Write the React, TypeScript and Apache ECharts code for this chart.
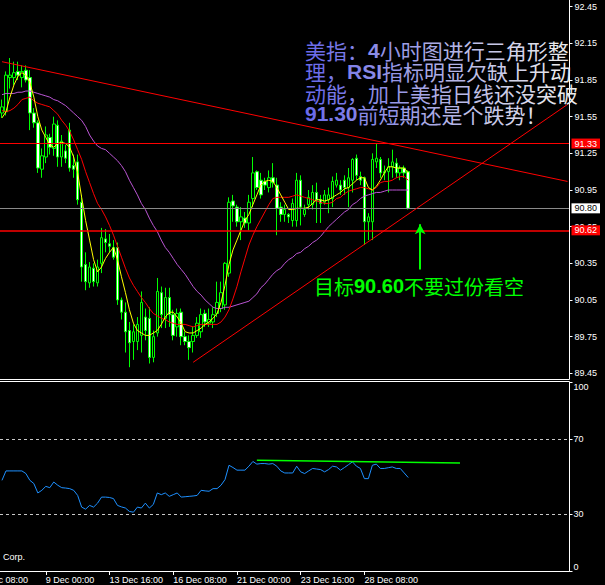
import React, { useEffect, useRef } from "react";
import * as echarts from "echarts";

// 4-hour bars of the dollar index (USDX)
const opens = [
  91.58, 91.59, 91.87, 91.87, 91.92, 91.87, 91.93, 91.87, 91.58, 91.5,
  91.12, 91.22, 91.38, 91.29, 91.48, 91.22, 91.27, 91.44, 91.15, 91.18,
  90.85, 90.34, 90.19, 90.31, 90.19, 90.35, 90.55, 90.51, 90.48, 90.48,
  90.05, 89.95, 89.8, 89.71, 89.71, 89.76, 89.91, 89.9, 89.58, 89.78,
  90.11, 89.9, 90.07, 89.93, 89.83, 89.95, 89.75, 89.71, 89.71, 89.76,
  89.79, 89.94, 89.86, 89.87, 89.94, 89.98, 90.01, 90.27, 90.86, 90.81,
  90.69, 90.72, 90.68, 90.88, 91.1, 91.03, 91.02, 90.97, 91.05, 90.99,
  90.81, 90.75, 90.75, 90.7, 90.7, 91.03, 90.75, 90.83, 90.83, 90.93,
  90.87, 90.85, 90.87, 90.88, 90.99, 90.99, 91.03, 90.97, 91.03, 91.21,
  91.06, 91.05, 90.69, 90.69, 91.18, 91.2, 91.09, 91.1, 91.14, 91.17,
  91.09, 91.13, 91.1,
];
const closes = [
  91.63, 91.89, 91.89, 91.91, 91.89, 91.92, 91.85, 91.58, 91.5, 91.13,
  91.23, 91.4, 91.3, 91.49, 91.22, 91.35, 91.21, 91.13, 91.12, 90.87,
  90.32, 90.2, 90.32, 90.2, 90.32, 90.56, 90.52, 90.49, 90.4, 90.05,
  89.95, 89.79, 89.7, 89.79, 89.85, 90.03, 89.8, 89.58, 89.75, 90.12,
  89.93, 90.07, 89.93, 89.76, 89.94, 89.75, 89.71, 89.66, 89.76, 89.86,
  89.93, 89.87, 89.89, 89.93, 90.03, 90.11, 90.35, 90.85, 90.82, 90.69,
  90.73, 90.68, 90.85, 91.09, 90.97, 90.91, 90.99, 91.05, 91.01, 90.8,
  90.75, 90.79, 90.73, 90.84, 91.03, 90.81, 90.79, 90.89, 90.93, 90.87,
  90.84, 90.91, 90.91, 91.02, 91.03, 90.95, 90.97, 91.05, 91.2, 91.07,
  91.03, 90.69, 90.73, 91.2, 91.21, 91.09, 91.1, 91.14, 91.18, 91.09,
  91.13, 91.09, 90.8,
];
const lows = [
  91.54, 91.56, 91.78, 91.81, 91.85, 91.79, 91.83, 91.44, 91.46, 91.09,
  91.05, 91.17, 91.24, 91.23, 91.14, 91.14, 91.17, 91.1, 91.05, 90.83,
  90.2, 90.13, 90.15, 90.16, 90.16, 90.27, 90.44, 90.44, 90.38, 90.01,
  89.89, 89.62, 89.5, 89.56, 89.64, 89.62, 89.72, 89.53, 89.54, 89.75,
  89.82, 89.82, 89.83, 89.72, 89.75, 89.68, 89.68, 89.56, 89.62, 89.74,
  89.74, 89.83, 89.83, 89.82, 89.91, 89.95, 89.97, 90.24, 90.69, 90.65,
  90.54, 90.64, 90.62, 90.81, 90.95, 90.88, 90.95, 90.93, 90.97, 90.58,
  90.69, 90.69, 90.68, 90.65, 90.65, 90.66, 90.73, 90.79, 90.79, 90.68,
  90.68, 90.83, 90.76, 90.81, 90.97, 90.91, 90.91, 90.81, 90.93, 91.03,
  90.99, 90.5, 90.54, 90.54, 91.13, 91.05, 91.03, 90.93, 91.05, 91.05,
  91.03, 91.05, 90.79,
];
const highs = [
  91.69, 91.92, 92.03, 92.0, 92.0, 91.97, 91.97, 91.93, 91.62, 91.52,
  91.29, 91.47, 91.41, 91.55, 91.52, 91.4, 91.32, 91.5, 91.24, 91.24,
  90.91, 90.44, 90.36, 90.35, 90.38, 90.64, 90.63, 90.59, 90.54, 90.52,
  90.07, 90.03, 89.87, 89.85, 89.91, 90.12, 89.98, 89.99, 89.8, 90.23,
  90.16, 90.15, 90.15, 89.97, 89.98, 89.98, 89.79, 89.76, 89.83, 89.91,
  89.98, 89.97, 89.98, 89.99, 90.2, 90.2, 90.36, 90.89, 90.91, 90.83,
  90.81, 90.77, 90.91, 91.22, 91.11, 91.09, 91.05, 91.11, 91.17, 91.05,
  90.85, 90.83, 90.76, 90.88, 91.09, 91.07, 90.83, 90.95, 90.99, 91.01,
  90.91, 90.95, 90.97, 91.06, 91.09, 91.03, 91.07, 91.13, 91.21, 91.24,
  91.1, 91.06, 90.76, 91.25, 91.33, 91.22, 91.15, 91.21, 91.28, 91.21,
  91.15, 91.15, 91.11,
];

// moving averages as plotted on the chart
const maFast = [
  91.54, 91.59, 91.71, 91.81, 91.88, 91.91, 91.89, 91.83, 91.71, 91.55,
  91.44, 91.38, 91.32, 91.3, 91.33, 91.34, 91.33, 91.3, 91.22, 91.09,
  90.89, 90.7, 90.54, 90.38, 90.28, 90.32, 90.39, 90.44, 90.48, 90.38,
  90.24, 90.11, 89.97, 89.86, 89.8, 89.78, 89.76, 89.76, 89.78, 89.8,
  89.85, 89.91, 89.95, 89.95, 89.91, 89.86, 89.79, 89.78, 89.78, 89.8,
  89.82, 89.85, 89.87, 89.9, 89.94, 90.03, 90.17, 90.34, 90.46, 90.54,
  90.62, 90.7, 90.75, 90.83, 90.91, 90.99, 91.02, 91.03, 91.02, 90.97,
  90.91, 90.85, 90.79, 90.79, 90.8, 90.8, 90.8, 90.81, 90.84, 90.87,
  90.87, 90.86, 90.87, 90.89, 90.91, 90.93, 90.96, 90.97, 91.0, 91.03,
  91.05, 91.05, 90.97, 90.95, 90.98, 91.03, 91.09, 91.14, 91.14, 91.13,
  91.13, 91.13, 91.09,
];
const maMid = [
  91.6, 91.59, 91.6, 91.62, 91.65, 91.69, 91.7, 91.71, 91.68, 91.66,
  91.65, 91.64, 91.63, 91.6, 91.57, 91.52, 91.48, 91.43, 91.36, 91.28,
  91.2, 91.1, 91.01, 90.92, 90.84, 90.79, 90.73, 90.66, 90.58, 90.49,
  90.4, 90.31, 90.23, 90.17, 90.12, 90.07, 90.03, 89.98, 89.94, 89.92,
  89.9, 89.89, 89.87, 89.86, 89.85, 89.85, 89.85, 89.84, 89.83, 89.84,
  89.85, 89.85, 89.85, 89.85, 89.85, 89.87, 89.91, 89.97, 90.06, 90.16,
  90.28, 90.39, 90.5, 90.58, 90.65, 90.71, 90.77, 90.83, 90.88, 90.89,
  90.89, 90.89, 90.89, 90.9, 90.91, 90.9, 90.89, 90.88, 90.87, 90.86,
  90.85, 90.84, 90.84, 90.85, 90.88, 90.89, 90.92, 90.94, 90.95, 90.96,
  90.97, 90.97, 90.96, 90.95, 90.97, 91.01, 91.02, 91.02, 91.03, 91.05,
  91.06, 91.06, 91.03,
];
const maSlow = [
  91.73, 91.74, 91.74, 91.74, 91.75, 91.75, 91.76, 91.76, 91.75, 91.74,
  91.73, 91.72, 91.71, 91.69, 91.68, 91.66, 91.64, 91.61, 91.58, 91.55,
  91.52, 91.47, 91.4, 91.35, 91.31, 91.29, 91.28, 91.25, 91.22, 91.19,
  91.15, 91.1, 91.03, 90.97, 90.91, 90.84, 90.79, 90.72, 90.66, 90.61,
  90.54, 90.48, 90.44, 90.39, 90.34, 90.3, 90.26, 90.21, 90.16, 90.12,
  90.09, 90.05, 90.02, 89.99, 89.98, 89.98, 89.99, 89.99, 90.0, 90.01,
  90.02, 90.03, 90.04, 90.07, 90.1, 90.15, 90.18, 90.22, 90.26, 90.29,
  90.31, 90.35, 90.38, 90.4, 90.43, 90.44, 90.47, 90.49, 90.52, 90.54,
  90.57, 90.61, 90.65, 90.68, 90.71, 90.74, 90.77, 90.79, 90.83, 90.85,
  90.88, 90.9, 90.91, 90.92, 90.93, 90.93, 90.94, 90.95, 90.95, 90.95,
  90.95, 90.95, 90.95,
];

// RSI(14)
const rsi = [
  48.1, 53.1, 53.1, 53.1, 53.1, 53.1, 51.7, 48.1, 46.4, 41.4,
  42.8, 44.9, 44.2, 47.2, 45.5, 44.2, 44.0, 43.7, 42.8, 40.1,
  33.9, 32.8, 34.8, 33.9, 36.0, 39.2, 39.2, 39.0, 38.4, 34.8,
  34.0, 33.4, 31.6, 31.2, 33.9, 33.4, 36.0, 33.4, 35.3, 41.4,
  40.5, 41.4, 39.6, 40.5, 41.4, 39.2, 39.4, 39.6, 39.8, 40.1,
  42.8, 42.5, 42.3, 43.7, 43.7, 45.5, 48.5, 56.1, 54.9, 53.5,
  53.5, 53.5, 55.6, 58.1, 56.7, 57.0, 57.0, 56.7, 57.0, 55.6,
  53.1, 52.0, 52.0, 52.0, 55.6, 52.6, 51.7, 53.1, 54.4, 54.1,
  53.8, 52.6, 53.8, 55.6, 55.2, 53.5, 54.9, 56.4, 57.9, 55.6,
  54.4, 49.0, 49.0, 56.1, 56.7, 54.4, 54.4, 54.8, 55.2, 54.4,
  54.4, 52.0, 49.6,
];

// price scale and time scale labels
const priceTicks = [92.45, 92.15, 91.85, 91.55, 91.25, 90.95, 90.65, 90.35, 90.05, 89.75, 89.45];
const rsiTicks = [0, 30, 70, 100];
const timeTickIndex = [11, 27, 43, 59, 75, 91];
const timeTickLabels = ["9 Dec 00:00", "13 Dec 16:00", "16 Dec 08:00", "21 Dec 00:00", "23 Dec 16:00", "28 Dec 08:00"];
const leadTickIndex = -5;
const leadTickLabel = "6 Dec 08:00";

// drawn levels and trend lines
const resistanceLevel = 91.33;
const bidLevel = 90.8;
const supportLevel = 90.62;
const upperTrend = [[0, 92.0], [142, 91.02]];
const lowerTrend = [[48, 89.54], [142, 91.65]];
const targetArrow = [[105, 90.3], [105, 90.67]];
const rsiTrend = [[64, 58.7], [115, 57.3]];

// commentary: runs of [text, bold]
const noteLines: [string, boolean][][] = [
  [["美指：", false], ["4", true], ["小时图进行三角形整", false]],
  [["理，", false], ["RSI", true], ["指标明显欠缺上升动", false]],
  [["动能，加上美指日线还没突破", false]],
  [["91.30", true], ["前短期还是个跌势！", false]],
];
const targetNote: [string, boolean][] = [["目标", false], ["90.60", true], ["不要过份看空", false]];

const SLOTS = 143;
const SLOT_W = 4;
const GRID_LEFT = -2.5;
const PLOT_RIGHT = GRID_LEFT + SLOTS * SLOT_W;
const MAIN_TOP = 6.7;
const MAIN_H = 366.6;
const RSI_TOP = 382.5;
const RSI_H = 188.5;
const AXIS_FONT = "Liberation Sans";
const CJK_FONT = "Noto Sans CJK SC";
const NOTE_SIZE = 21;
const NOTE_SPAN = 264;

const categories = Array.from({ length: SLOTS }, (_, i) => String(i));
const candleData = opens.map((o, i) => [o, closes[i], lows[i], highs[i]]);

// fade of the commentary colour from left to right
const noteStops: [number, number[]][] = [
  [0, [104, 104, 234]],
  [0.45, [166, 166, 228]],
  [1, [236, 236, 236]],
];

function fadeColor(t: number) {
  const u = Math.max(0, Math.min(1, t));
  let k = 0;
  while (k < noteStops.length - 2 && u > noteStops[k + 1][0]) k++;
  const [t0, c0] = noteStops[k];
  const [t1, c1] = noteStops[k + 1];
  const f = (u - t0) / (t1 - t0);
  const c = c0.map((v, j) => Math.round(v + (c1[j] - v) * f));
  return `rgb(${c[0]},${c[1]},${c[2]})`;
}

// approximate advance of a bold Latin glyph, in em
function latinAdvance(ch: string) {
  if (ch === ".") return 0.278;
  if (ch === "I") return 0.278;
  if (ch === "R") return 0.722;
  if (ch === "S") return 0.667;
  return 0.556;
}

function fadedRichText(runs: [string, boolean][]) {
  let x = 0;
  let text = "";
  const rich: Record<string, any> = {};
  let n = 0;
  for (const [run, bold] of runs) {
    for (const ch of Array.from(run)) {
      const w = (bold ? latinAdvance(ch) : 1) * NOTE_SIZE;
      const name = "t" + n++;
      rich[name] = {
        fill: fadeColor((x + w / 2) / NOTE_SPAN),
        fontFamily: bold ? AXIS_FONT : CJK_FONT,
        fontWeight: bold ? "bold" : "normal",
        fontSize: NOTE_SIZE,
        lineHeight: NOTE_SIZE,
      };
      text += `{${name}|${ch}}`;
      x += w;
    }
  }
  return { text, rich };
}

function plainRichText(runs: [string, boolean][], color: string, size: number) {
  const rich: Record<string, any> = {};
  let text = "";
  runs.forEach(([run, bold], k) => {
    const name = "r" + k;
    rich[name] = {
      fill: color,
      fontFamily: bold ? AXIS_FONT : CJK_FONT,
      fontWeight: bold ? "bold" : "normal",
      fontSize: size,
      lineHeight: size,
    };
    text += `{${name}|${run}}`;
  });
  return { text, rich };
}

function priceTag(bg: string, fg: string) {
  return {
    show: true,
    position: "end" as const,
    distance: 2,
    formatter: (p: any) => Number(p.value).toFixed(2),
    backgroundColor: bg,
    color: fg,
    fontFamily: AXIS_FONT,
    fontSize: 9,
    lineHeight: 10,
    padding: [0, 3, 0, 3],
  };
}

function segment(pts: number[][], color: string, width: number, endSymbol = "none") {
  return [
    { coord: pts[0], symbol: "none", lineStyle: { color, width, type: "solid" }, label: { show: false } },
    { coord: pts[1], symbol: endSymbol, symbolSize: [8, 10], lineStyle: { color, width, type: "solid" }, label: { show: false } },
  ];
}

function buildOption() {
  const isTimeTick = (i: number) => timeTickIndex.includes(i);

  const lineSeries = (data: number[], color: string) => ({
    type: "line",
    xAxisIndex: 0,
    yAxisIndex: 0,
    data,
    symbol: "none",
    showSymbol: false,
    silent: true,
    lineStyle: { color, width: 1 },
    z: 3,
  });

  const target = plainRichText(targetNote, "#00ff00", 20);

  return {
    backgroundColor: "#000000",
    animation: false,
    grid: [
      { left: GRID_LEFT, top: MAIN_TOP, width: SLOTS * SLOT_W, height: MAIN_H },
      { left: GRID_LEFT, top: RSI_TOP, width: SLOTS * SLOT_W, height: RSI_H },
    ],
    xAxis: [
      { type: "category", gridIndex: 0, data: categories, boundaryGap: true, show: false },
      {
        type: "category",
        gridIndex: 1,
        data: categories,
        boundaryGap: true,
        axisLine: { show: true, lineStyle: { color: "#ffffff", width: 1 } },
        axisTick: {
          show: true,
          alignWithLabel: true,
          interval: (i: number) => isTimeTick(i),
          length: 4,
          lineStyle: { color: "#ffffff" },
        },
        axisLabel: {
          show: true,
          interval: (i: number) => isTimeTick(i),
          formatter: (_v: string, i: number) => {
            const k = timeTickIndex.indexOf(i);
            return k >= 0 ? timeTickLabels[k] : "";
          },
          align: "left",
          verticalAlign: "top",
          margin: 4,
          color: "#ffffff",
          fontFamily: AXIS_FONT,
          fontSize: 9,
        },
        splitLine: { show: false },
      },
    ],
    yAxis: [
      {
        type: "value",
        gridIndex: 0,
        position: "right",
        min: 89.45,
        max: 92.45,
        axisLine: { show: false },
        splitLine: { show: false },
        axisTick: { show: true, customValues: priceTicks, length: 3, lineStyle: { color: "#ffffff" } },
        axisLabel: {
          show: true,
          customValues: priceTicks,
          formatter: (v: number) => v.toFixed(2),
          color: "#ffffff",
          fontFamily: AXIS_FONT,
          fontSize: 9,
          margin: 5,
        },
      },
      {
        type: "value",
        gridIndex: 1,
        position: "right",
        min: 0,
        max: 100,
        axisLine: { show: false },
        splitLine: { show: false },
        axisTick: { show: true, customValues: rsiTicks, length: 3, lineStyle: { color: "#ffffff" } },
        axisLabel: {
          show: true,
          customValues: rsiTicks,
          color: "#ffffff",
          fontFamily: AXIS_FONT,
          fontSize: 9,
          margin: 4,
          verticalAlignMinLabel: "bottom",
          verticalAlignMaxLabel: "top",
        },
      },
    ],
    series: [
      {
        type: "candlestick",
        xAxisIndex: 0,
        yAxisIndex: 0,
        data: candleData,
        barWidth: 3,
        silent: true,
        itemStyle: {
          color: "#000000",
          color0: "#ffffff",
          borderColor: "#00ff00",
          borderColor0: "#00ff00",
          borderWidth: 1,
        },
        z: 2,
      },
      lineSeries(maSlow, "#ba55d3"),
      lineSeries(maMid, "#ff0000"),
      {
        ...lineSeries(maFast, "#ffff00"),
        markLine: {
          silent: true,
          animation: false,
          symbol: ["none", "none"],
          data: [
            { yAxis: resistanceLevel, lineStyle: { color: "#ff0000", width: 1, type: "solid" }, label: priceTag("#ff0000", "#ffffff") },
            { yAxis: bidLevel, lineStyle: { color: "#8a8a8a", width: 1, type: "solid" }, label: priceTag("#ffffff", "#000000") },
            { yAxis: supportLevel, lineStyle: { color: "#ff0000", width: 1.6, type: "solid" }, label: priceTag("#ff0000", "#ffffff") },
            segment(upperTrend, "#ff0000", 1),
            segment(lowerTrend, "#ff0000", 1),
            segment(targetArrow, "#00ff00", 2, "arrow"),
          ],
        },
      },
      {
        type: "line",
        xAxisIndex: 1,
        yAxisIndex: 1,
        data: rsi,
        symbol: "none",
        showSymbol: false,
        silent: true,
        lineStyle: { color: "#1e90ff", width: 1 },
        markLine: {
          silent: true,
          animation: false,
          symbol: ["none", "none"],
          label: { show: false },
          data: [
            { yAxis: 70, lineStyle: { color: "#c8c8c8", width: 1, type: [3, 3] } },
            { yAxis: 30, lineStyle: { color: "#c8c8c8", width: 1, type: [3, 3] } },
            segment(rsiTrend, "#00ff00", 1.5),
          ],
        },
      },
    ],
    graphic: [
      // panel frame
      { type: "line", z: 50, silent: true, shape: { x1: PLOT_RIGHT, y1: 0, x2: PLOT_RIGHT, y2: 379.5 }, style: { stroke: "#ffffff", lineWidth: 1 } },
      { type: "line", z: 50, silent: true, shape: { x1: PLOT_RIGHT, y1: 381.5, x2: PLOT_RIGHT, y2: 571 }, style: { stroke: "#ffffff", lineWidth: 1 } },
      { type: "line", z: 50, silent: true, shape: { x1: 0, y1: 379.5, x2: PLOT_RIGHT, y2: 379.5 }, style: { stroke: "#ffffff", lineWidth: 1 } },
      { type: "line", z: 50, silent: true, shape: { x1: 0, y1: 381.5, x2: PLOT_RIGHT, y2: 381.5 }, style: { stroke: "#ffffff", lineWidth: 1 } },
      // first time label, cut by the left edge
      {
        type: "text",
        z: 50,
        silent: true,
        x: GRID_LEFT + (leadTickIndex + 0.5) * SLOT_W,
        y: RSI_TOP + RSI_H + 4,
        style: { text: leadTickLabel, fill: "#ffffff", fontFamily: AXIS_FONT, fontSize: 9, align: "left", verticalAlign: "top" },
      },
      {
        type: "text",
        z: 50,
        silent: true,
        x: 3,
        y: 557,
        style: { text: "Corp.", fill: "#ffffff", fontFamily: AXIS_FONT, fontSize: 9, verticalAlign: "middle" },
      },
      // commentary
      ...noteLines.map((runs, k) => {
        const r = fadedRichText(runs);
        return {
          type: "text",
          z: 60,
          silent: true,
          x: 305,
          y: 50 + 21.3 * k,
          style: {
            text: r.text,
            rich: r.rich,
            fill: "#a8a8e4",
            fontFamily: CJK_FONT,
            fontSize: NOTE_SIZE,
            lineHeight: NOTE_SIZE,
            align: "left",
            verticalAlign: "middle",
          },
        };
      }),
      {
        type: "text",
        z: 60,
        silent: true,
        x: 314,
        y: 286,
        style: {
          text: target.text,
          rich: target.rich,
          fill: "#00ff00",
          fontFamily: CJK_FONT,
          fontSize: 20,
          lineHeight: 20,
          align: "left",
          verticalAlign: "middle",
        },
      },
    ],
  };
}

export default function App() {
  const ref = useRef<HTMLDivElement>(null);
  useEffect(() => {
    const el = ref.current;
    if (!el) return;
    const chart = echarts.init(el, null, { renderer: "svg" });
    chart.setOption(buildOption() as any);
    return () => chart.dispose();
  }, []);
  return (
    <div
      ref={ref}
      style={{ position: "fixed", left: 0, top: 0, width: 605, height: 585, background: "#000" }}
    />
  );
}
